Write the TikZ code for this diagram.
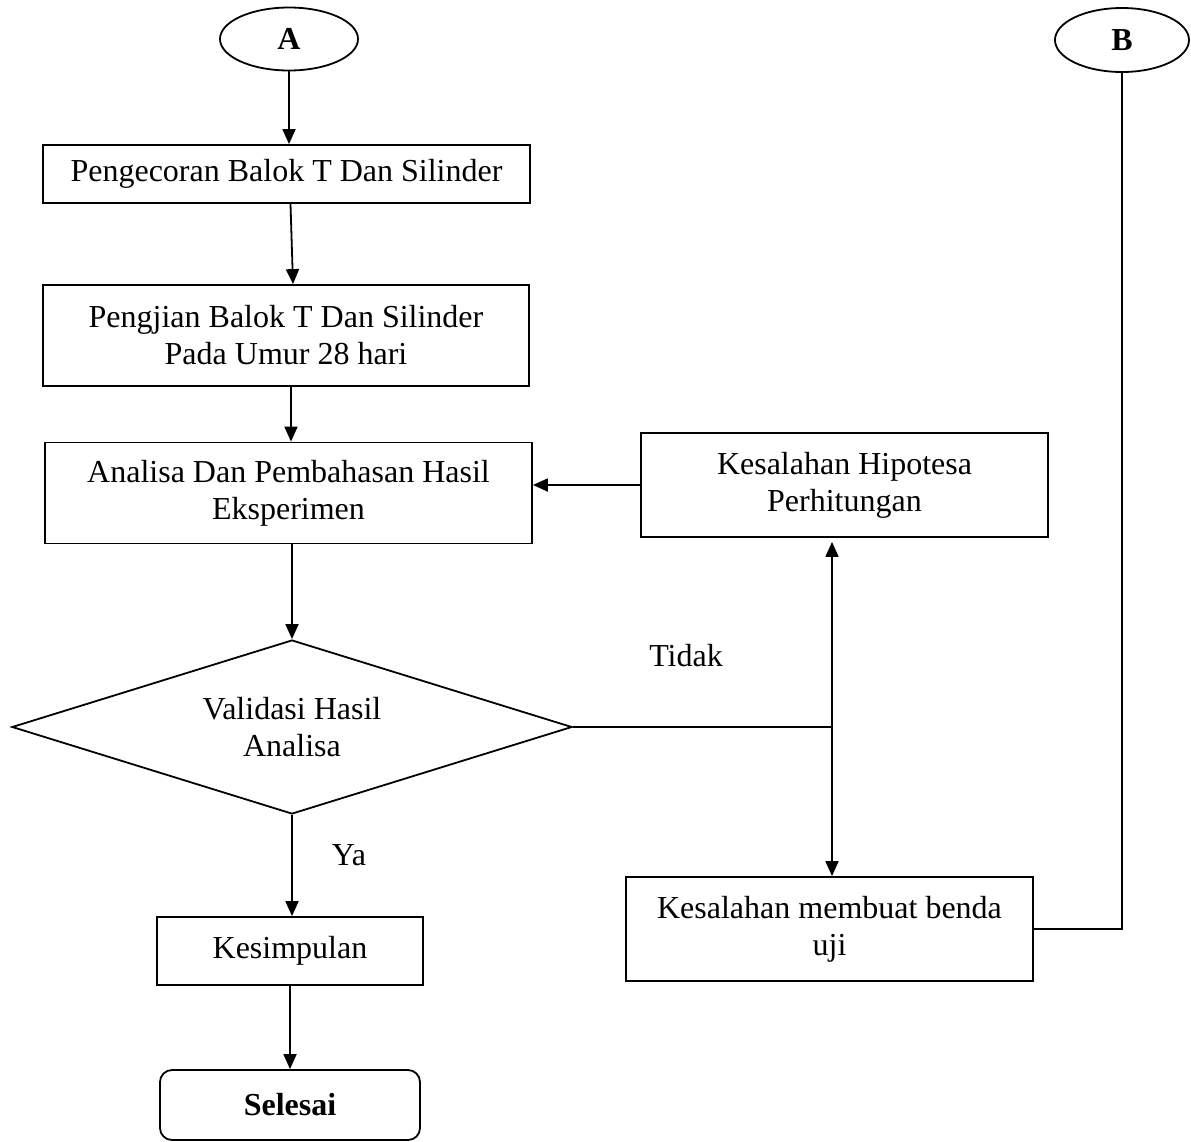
\documentclass[tikz,border=0pt]{standalone}
\usepackage{fontspec}
\setmainfont{Liberation Serif}
\usetikzlibrary{shapes.geometric,arrows.meta}
\begin{document}
\begin{tikzpicture}[x=1pt,y=-1pt,
  every node/.style={font=\fontsize{32}{37}\selectfont, align=center},
  box/.style={draw, line width=1.8pt, rectangle, inner sep=0pt},
  term/.style={draw, line width=1.8pt, ellipse, inner sep=0pt, font=\fontsize{32}{37}\selectfont\bfseries},
  endbox/.style={draw, line width=1.8pt, rectangle, rounded corners=12pt, inner sep=0pt, font=\fontsize{32}{37}\selectfont\bfseries},
  decision/.style={draw, line width=1.8pt, diamond, aspect=3.24, inner sep=0pt},
  arr/.style={line width=1.8pt, -{Triangle[length=15pt,width=13pt]}},
  dblarr/.style={line width=1.8pt, {Triangle[length=15pt,width=13pt]}-{Triangle[length=15pt,width=13pt]}},
  conn/.style={line width=1.8pt},
  lbl/.style={inner sep=0pt}]
\useasboundingbox (0,0) rectangle (1191,1141);
\node[term, minimum width=138pt, minimum height=63pt] (A) at (289,39) {A};
\node[term, minimum width=134pt, minimum height=64pt] (B) at (1122,40) {B};
\node[box, minimum width=487pt, minimum height=58pt] (b1) at (286.5,174) {Pengecoran Balok T Dan Silinder};
\node[box, minimum width=486pt, minimum height=101pt] (b2) at (286,335.5) {Pengjian Balok T Dan Silinder\\Pada Umur 28 hari};
\node[box, minimum width=487pt, minimum height=101pt] (b3) at (288.5,493) {Analisa Dan Pembahasan Hasil\\Eksperimen};
\node[box, minimum width=407pt, minimum height=104pt] (b4) at (844.5,485) {Kesalahan Hipotesa\\Perhitungan};
\node[decision, minimum width=560pt, minimum height=174pt] (d) at (292,727) {Validasi Hasil\\Analisa};
\node[box, minimum width=407pt, minimum height=104pt] (b5) at (829.5,929) {Kesalahan membuat benda\\uji};
\node[box, minimum width=266pt, minimum height=68pt] (b6) at (290,951) {Kesimpulan};
\node[endbox, minimum width=260pt, minimum height=70pt] (end) at (290,1105) {Selesai};
\node[lbl] (tidak) at (686,656) {Tidak};
\node[lbl] (ya) at (349,855) {Ya};
\coordinate (J) at (832,727);
\draw[arr] (A.south) -- (A.south |- b1.north);
\draw[arr] ([xshift=4pt]b1.south) -- ([xshift=7pt]b2.north);
\draw[arr] ([xshift=5pt]b2.south) -- ([xshift=5pt]b2.south |- b3.north);
\draw[arr] (b3.south -| d.north) -- (d.north);
\draw[arr] (b4.west) -- (b4.west -| b3.east);
\draw[conn] (d.east) -- (J);
\draw[dblarr] ([yshift=-4pt]J |- b4.south) -- (J |- b5.north);
\draw[conn] (b5.east) -| (B.south);
\draw[arr] (d.south) -- (d.south |- b6.north);
\draw[arr] (b6.south) -- (end.north);
\end{tikzpicture}
\end{document}
